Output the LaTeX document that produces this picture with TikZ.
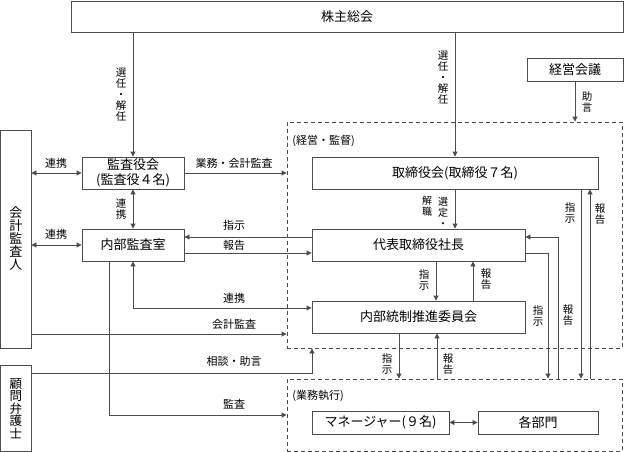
\documentclass[tikz,border=0pt]{standalone}
\usepackage{fontspec}
\newfontfamily\cjk{Noto Sans CJK JP}
\usetikzlibrary{arrows.meta}
\begin{document}
\begin{tikzpicture}[x=1pt,y=-1pt,
  line width=0.9pt,
  ln/.style={draw=black!70},
  arr/.style={ln,-{Triangle[length=5pt,width=5pt]}},
  darr/.style={ln,{Triangle[length=5pt,width=5pt]}-{Triangle[length=5pt,width=5pt]}},
  box/.style={draw=black!70,inner sep=0pt,font=\fontsize{13}{16}\selectfont\cjk,align=center},
  grp/.style={draw=black!70,dash pattern=on 4pt off 3pt,inner sep=0pt},
  lbl/.style={font=\fontsize{11}{12}\selectfont\cjk,inner sep=0pt},
  vlbl/.style={font=\fontsize{10.5}{11}\selectfont\cjk,inner sep=0pt,align=center}
]
\useasboundingbox (0,0) rectangle (624,452);

% dashed groups
\node[grp,minimum width=335pt,minimum height=226pt] (grpA) at (454.5,235) {};
\node[grp,minimum width=335pt,minimum height=72pt] (gyomu) at (454.5,415) {};

% boxes
\node[box,minimum width=552pt,minimum height=31pt] (kabu) at (347,16.5) {株主総会};
\node[box,minimum width=96pt,minimum height=23pt] (keiei) at (575,69.5) {経営会議};
\node[box,minimum width=102pt,minimum height=32pt,font=\fontsize{13}{15}\selectfont\cjk] (kansayaku) at (133,173) {監査役会\\(監査役４名)};
\node[box,minimum width=286pt,minimum height=32pt] (torishimari) at (455,173) {取締役会(取締役７名)};
\node[box,minimum width=102pt,minimum height=32pt] (naibu) at (133,245) {内部監査室};
\node[box,minimum width=213pt,minimum height=32pt] (daihyo) at (418.5,245) {代表取締役社長};
\node[box,minimum width=213pt,minimum height=32pt] (tosei) at (418.5,317) {内部統制推進委員会};
\node[box,minimum width=30.5pt,minimum height=218pt,font=\fontsize{13}{13}\selectfont\cjk] (kaikei) at (15.75,239) {会\\計\\監\\査\\人};
\node[box,minimum width=30.5pt,minimum height=86.5pt,font=\fontsize{12.5}{12.5}\selectfont\cjk] (komon) at (15.75,408.25) {顧\\問\\弁\\護\\士};
\node[box,minimum width=137pt,minimum height=23pt] (manager) at (380.5,422.5) {マネージャー(９名)};
\node[box,minimum width=120pt,minimum height=23pt] (bumon) at (538,422.5) {各部門};

% group titles
\node[lbl,anchor=west] (tA) at (292,141) {(経営・監督)};
\node[lbl,anchor=west] (tB) at (292,396) {(業務執行)};

% connectors
\draw[arr] (kabu.south -| kansayaku.north) -- (kansayaku.north);
\draw[arr] (kabu.south -| torishimari.north) -- (torishimari.north);
\draw[arr] (keiei.south) -- (keiei.south |- grpA.north);
\draw[darr] (kaikei.east |- kansayaku.west) -- (kansayaku.west);
\draw[darr] (kaikei.east |- naibu.west) -- (naibu.west);
\draw[arr] (kansayaku.east) -- (kansayaku.east -| grpA.west);
\draw[darr] (kansayaku.south) -- (naibu.north);
\draw[arr] ([yshift=8pt]daihyo.west) -- ([yshift=8pt]daihyo.west -| naibu.east);
\draw[arr] ([yshift=-8pt]naibu.east) -- ([yshift=-8pt]naibu.east -| daihyo.west);
\draw[arr] (torishimari.south) -- (torishimari.south |- daihyo.north);
\draw[arr] ([xshift=17.5pt]daihyo.south) -- ([xshift=17.5pt]daihyo.south |- tosei.north);
\draw[arr] ([xshift=54.5pt]tosei.north) -- ([xshift=54.5pt]tosei.north |- daihyo.south);
\draw[arr] ([yshift=-8pt]daihyo.east) -| ([xshift=93.5pt]gyomu.north);
\draw[arr] ([xshift=103.5pt]gyomu.north) |- ([yshift=8pt]daihyo.east);
\draw[arr] ([xshift=126pt]torishimari.south) -- ([xshift=126pt]torishimari.south |- gyomu.north);
\draw[arr] ([xshift=135pt]torishimari.south |- gyomu.north) -- ([xshift=135pt]torishimari.south);
\draw[arr] ([xshift=-19.5pt]tosei.south) -- ([xshift=-19.5pt]tosei.south |- gyomu.north);
\draw[arr] ([xshift=18.5pt]tosei.south |- gyomu.north) -- ([xshift=18.5pt]tosei.south);
\draw[darr] (naibu.south) |- ([yshift=9pt]tosei.west);
\draw[arr] ([xshift=-24pt]naibu.south) |- (gyomu.west);
\draw[arr] ([yshift=-95pt]kaikei.east) -- ([yshift=-95pt]kaikei.east -| grpA.west);
\draw[arr] ([yshift=35pt]komon.east) -| ([xshift=-142.5pt]grpA.south);
\draw[darr] (manager.east) -- (bumon.west);

% labels
\node[vlbl] (l1) at (121,95) {選\\任\\・\\解\\任};
\node[vlbl] (l2) at (443,78) {選\\任\\・\\解\\任};
\node[vlbl] (l3) at (587,102) {助\\言};
\node[lbl] (l4) at (56,163) {連携};
\node[lbl] (l5) at (56,234) {連携};
\node[lbl] (l6) at (234,163) {業務・会計監査};
\node[vlbl] (l7) at (121,209) {連\\携};
\node[lbl] (l8) at (234,225) {指示};
\node[lbl] (l9) at (234,245) {報告};
\node[lbl] (l10) at (234,298) {連携};
\node[lbl] (l11) at (234,324) {会計監査};
\node[lbl] (l12) at (234,361) {相談・助言};
\node[lbl] (l13) at (234,404) {監査};
\node[vlbl,font=\fontsize{10}{11}\selectfont\cjk] (l14) at (443,212) {選\\定\\・};
\node[vlbl,font=\fontsize{10}{11}\selectfont\cjk] (l15) at (427,206.5) {解\\職};
\node[vlbl] (l16) at (424,280) {指\\示};
\node[vlbl] (l17) at (486,279) {報\\告};
\node[vlbl] (l18) at (570,213) {指\\示};
\node[vlbl] (l19) at (600,214) {報\\告};
\node[vlbl] (l20) at (538,316) {指\\示};
\node[vlbl] (l21) at (568,315) {報\\告};
\node[vlbl] (l22) at (387,364) {指\\示};
\node[vlbl] (l23) at (448,364) {報\\告};
\end{tikzpicture}
\end{document}
